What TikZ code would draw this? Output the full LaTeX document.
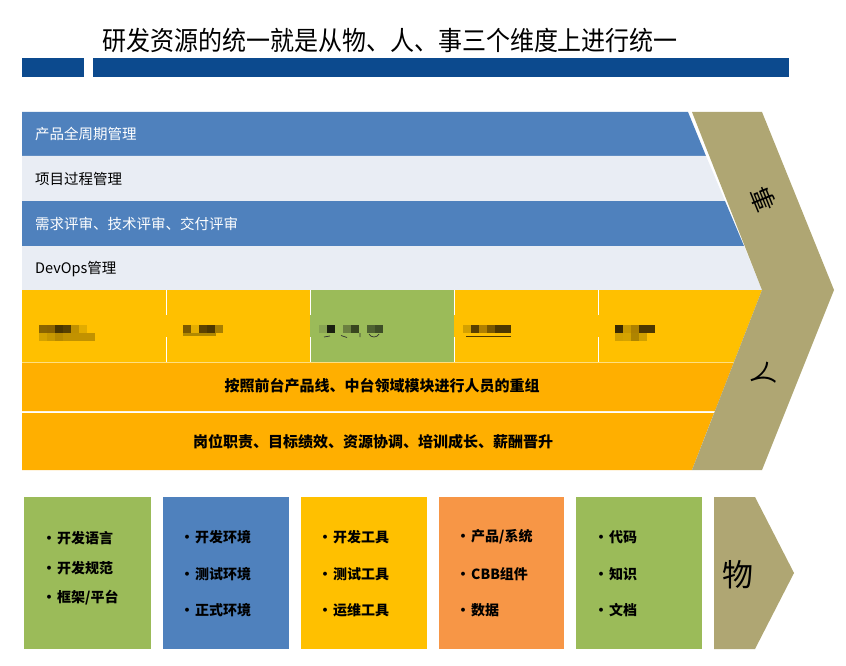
\documentclass[tikz,border=0pt]{standalone}
\usepackage{fontspec}
\setmainfont{Noto Sans CJK SC}
\definecolor{barblue}{HTML}{0C4A8E}
\definecolor{bandblue}{HTML}{4F81BD}
\definecolor{bandlight}{HTML}{E9EDF4}
\definecolor{yel}{HTML}{FFC000}
\definecolor{orb}{HTML}{FFAF00}
\definecolor{grn}{HTML}{9BBB59}
\definecolor{orbox}{HTML}{F79646}
\definecolor{tan}{HTML}{AFA673}
\newcommand\mzk[3]{\definecolor{mztmp}{HTML}{#3}\fill[mztmp] (#1,#2) rectangle ++(8,8);}
\newcommand\bultxt[1]{\makebox[8pt][c]{•}\hspace{4pt}#1}
\tikzset{
  bandtxt/.style={anchor=west,inner sep=0pt,font=\fontsize{14.5}{16}\selectfont},
  orbtxt/.style={inner sep=0pt,font=\bfseries\fontsize{15}{17}\selectfont},
  bul/.style={anchor=west,inner sep=0pt,font=\bfseries\fontsize{14}{16}\selectfont},
  bigch/.style={inner sep=0pt,font=\fontsize{25}{27}\selectfont},
  divline/.style={white,line width=0.8pt},
}
\begin{document}
\begin{tikzpicture}[x=1pt,y=-1pt]
\useasboundingbox (0,0) rectangle (846,666);
\fill[white] (0,0) rectangle (846,666);
% title
\node[inner sep=0pt,font=\fontsize{24}{26}\selectfont] (title) at (390,40) {\scalebox{1}[1.1]{研发资源的统一就是从物、人、事三个维度上进行统一}};
\fill[barblue] (22,58) rectangle (84,77);
\fill[barblue] (93,58) rectangle (789,77);
% upper bands
\fill[bandblue] (22,112) -- (688,112) -- (706,156) -- (22,156) -- cycle;
\fill[bandlight] (22,156) -- (706,156) -- (725,201) -- (22,201) -- cycle;
\fill[bandblue] (22,201) -- (725,201) -- (744,246) -- (22,246) -- cycle;
\fill[bandlight] (22,246) -- (744,246) -- (762,290) -- (22,290) -- cycle;
\node[bandtxt,white] (b1) at (35,134) {产品全周期管理};
\node[bandtxt,black] (b2) at (35,179) {项目过程管理};
\node[bandtxt,white] (b3) at (35,224) {需求评审、技术评审、交付评审};
\node[bandtxt,black] (b4) at (35,269) {DevOps管理};
% lower bands
\fill[yel] (22,290) -- (762,290) -- (734,362) -- (22,362) -- cycle;
\fill[grn] (310,290) rectangle (454,362);
\fill[orb] (22,362) -- (734,362) -- (715,411) -- (22,411) -- cycle;
\fill[orb] (22,413) -- (714,413) -- (692,470) -- (22,470) -- cycle;
\draw[color=yel!50!white,line width=0.6pt] (22,362) -- (734,362);
\foreach \xx in {166,310,454,598} {
  \draw[divline] (\xx,290) -- (\xx,315);
  \draw[divline] (\xx,337) -- (\xx,362);
}
% mosaic (obscured labels)
\mzk{39}{325}{8B6500}\mzk{47}{325}{8A6200}\mzk{55}{325}{4A3500}\mzk{63}{325}{584000}\mzk{71}{325}{C09000}\mzk{79}{325}{E2AC00}
\mzk{39}{333}{D4A200}\mzk{47}{333}{C89800}\mzk{55}{333}{B88A00}
\definecolor{mztmp}{HTML}{C29200}\fill[mztmp] (63,333) rectangle (95,341);
\mzk{183}{325}{7C5900}\mzk{191}{325}{E6AE00}\mzk{199}{325}{5E4300}\mzk{207}{325}{4E3800}\mzk{215}{325}{A87E00}
\definecolor{mztmp}{HTML}{B08800}\fill[mztmp] (183,333) rectangle (216,336);
\mzk{319}{325}{88A352}\mzk{327}{325}{1A1F10}\mzk{343}{325}{6B8040}\mzk{351}{325}{39461F}\mzk{367}{325}{4F6232}\mzk{375}{325}{3E4E27}
\draw[black!80,line width=0.7pt] (324,337) -- (330,336) (341,335.5) -- (347,337.5) (360,333) -- (360,337) (369,334) .. controls (371,338) and (377,338) .. (379,334);
\mzk{463}{325}{D4A000}\mzk{471}{325}{5A4000}\mzk{479}{325}{B08000}\mzk{487}{325}{7A5800}
\definecolor{mztmp}{HTML}{4E3800}\fill[mztmp] (495,325) rectangle (511,333);
\fill[mztmp] (466,335.5) rectangle (511,336.5);
\mzk{615}{325}{3A2A00}\mzk{623}{325}{C99800}\mzk{631}{325}{AD8000}
\definecolor{mztmp}{HTML}{4E3800}\fill[mztmp] (639,325) rectangle (655,333);
\mzk{615}{333}{D2A000}\mzk{623}{333}{D5A300}\mzk{631}{333}{AE8400}\mzk{639}{333}{D0A000}
\node[orbtxt] (o1) at (382,386) {按照前台产品线、中台领域模块进行人员的重组};
\node[orbtxt] (o2) at (373,442) {岗位职责、目标绩效、资源协调、培训成长、薪酬晋升};
% chevron
\fill[tan] (692,112) -- (762,112) -- (834,290) -- (762,470) -- (692,470) -- (762,290) -- cycle;
\node[bigch,rotate=112] (shi) at (763,199) {事};
\node[bigch,rotate=112] (ren) at (762,376) {人};
% bottom boxes
\fill[grn] (24,497) rectangle (151,649);
\fill[bandblue] (163,497) rectangle (289,649);
\fill[yel] (301,497) rectangle (427,649);
\fill[orbox] (439,497) rectangle (564,649);
\fill[grn] (576,497) rectangle (702,649);
\fill[tan] (714,497) -- (755,497) -- (794,573) -- (755,649) -- (714,649) -- cycle;
\node[inner sep=0pt,font=\fontsize{31}{33}\selectfont] (wu) at (738,575) {物};
\node[bul] (l11) at (45,538) {\bultxt{开发语言}};
\node[bul] (l12) at (45,568) {\bultxt{开发规范}};
\node[bul] (l13) at (45,598) {\bultxt{框架/平台}};
\node[bul] (l21) at (183,537) {\bultxt{开发环境}};
\node[bul] (l22) at (183,574) {\bultxt{测试环境}};
\node[bul] (l23) at (183,610) {\bultxt{正式环境}};
\node[bul] (l31) at (321,537) {\bultxt{开发工具}};
\node[bul] (l32) at (321,574) {\bultxt{测试工具}};
\node[bul] (l33) at (321,610) {\bultxt{运维工具}};
\node[bul] (l41) at (459,537) {\bultxt{产品/系统}};
\node[bul] (l42) at (459,574) {\bultxt{CBB组件}};
\node[bul] (l43) at (459,610) {\bultxt{数据}};
\node[bul] (l51) at (597,537) {\bultxt{代码}};
\node[bul] (l52) at (597,574) {\bultxt{知识}};
\node[bul] (l53) at (597,610) {\bultxt{文档}};
\end{tikzpicture}
\end{document}
